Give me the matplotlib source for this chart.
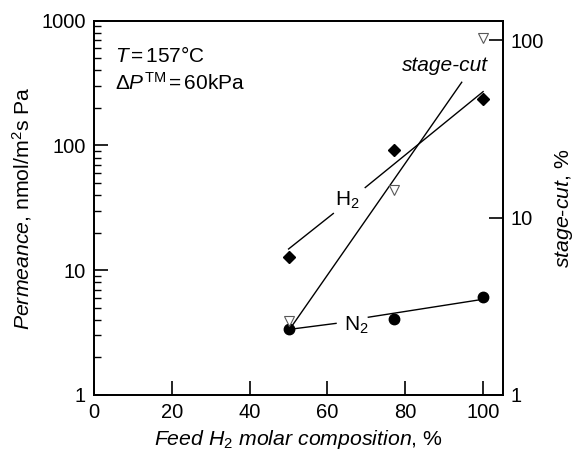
import matplotlib
matplotlib.use("Agg")
import matplotlib.pyplot as plt
from matplotlib.ticker import LogLocator, NullFormatter, FixedLocator

plt.rcParams['font.family'] = ['Liberation Sans', 'DejaVu Sans']
plt.rcParams['mathtext.fontset'] = 'custom'
plt.rcParams['mathtext.rm'] = 'Liberation Sans'
plt.rcParams['mathtext.it'] = 'Liberation Sans:italic'
plt.rcParams['mathtext.bf'] = 'Liberation Sans:bold'

# measured points
feed = [50, 77, 100]
perm_h2 = [12.8, 92, 234]
perm_n2 = [3.4, 4.1, 6.1]
stage_cut = [2.6, 14.3, 103]

# fitted trend lines (split where the gas labels sit)
h2_fit_x = [[50, 61.5], [69.7, 100]]
h2_fit_y = [[14.8, 28.5], [46, 270]]
n2_fit_x = [[50, 62.2], [70.5, 100]]
n2_fit_y = [[3.35, 3.75], [4.2, 5.85]]
sc_fit_x = [50, 94.5]
sc_fit_y = [2.3, 58]

fontsize = 14.5
lw = 1.0

fig = plt.figure(figsize=(5.77, 4.58), dpi=100)
ax = fig.add_axes([0.163, 0.1376, 0.708, 0.8172])
ax2 = ax.twinx()

# permeance
for xs, ys in zip(h2_fit_x, h2_fit_y):
    ax.plot(xs, ys, color='black', lw=lw)
for xs, ys in zip(n2_fit_x, n2_fit_y):
    ax.plot(xs, ys, color='black', lw=lw)
ax.plot(feed, perm_h2, ls='none', marker='D', ms=6.5, color='black')
ax.plot(feed, perm_n2, ls='none', marker='o', ms=7.5, color='black')

# stage-cut
ax2.plot(sc_fit_x, sc_fit_y, color='black', lw=lw)
ax2.plot(feed, stage_cut, ls='none', marker='v', ms=7, mfc='white',
         mec='0.35', mew=0.8)

ax.set_xlim(0, 105)
ax.set_yscale('log')
ax.set_ylim(1, 1000)
ax2.set_yscale('log')
ax2.set_ylim(1, 129)

ax.set_xticks([0, 20, 40, 60, 80, 100])
ax.yaxis.set_major_locator(FixedLocator([1, 10, 100, 1000]))
ax.yaxis.set_minor_locator(LogLocator(base=10, subs=range(2, 10)))
ax.yaxis.set_minor_formatter(NullFormatter())
ax.set_yticklabels(['1', '10', '100', '1000'])

ax2.yaxis.set_major_locator(FixedLocator([1, 10, 100]))
ax2.yaxis.set_minor_locator(FixedLocator([]))
ax2.set_yticklabels(['1', '10', '100'])

ax.tick_params(axis='both', which='major', direction='in', length=10,
               width=1.2, labelsize=fontsize, pad=6)
ax.tick_params(axis='y', which='minor', direction='in', length=5, width=1.0)
ax.tick_params(axis='x', top=False)
ax2.tick_params(axis='y', which='major', direction='in', length=10,
                width=1.2, labelsize=fontsize, pad=6)

for a in (ax, ax2):
    for sp in a.spines.values():
        sp.set_linewidth(1.3)

ax.set_xlabel(r'$\it{Feed\ H_2\ molar\ composition}$, %', fontsize=15.3,
              labelpad=4)
ax.set_ylabel(r'$\it{Permeance}$, nmol/m$^2$s Pa', fontsize=15.3, labelpad=5)
ax2.set_ylabel(r'$\it{stage}$-$\it{cut}$, %', fontsize=15.3, labelpad=6)

# annotations
ax.text(5.5, 520, r'$T\,$=$\,$157°C', fontsize=15, va='center')
ax.text(5.5, 315, r'Δ$P^{\rm TM}\,$=$\,$60kPa', fontsize=15, va='center')
ax.text(65, 36.5, r'H$_2$', fontsize=15, ha='center', va='center')
ax.text(67.3, 3.6, r'N$_2$', fontsize=15, ha='center', va='center')
ax2.text(101.3, 72, 'stage-cut', fontsize=15, style='italic',
         ha='right', va='center')

fig.savefig('out.png', dpi=100)
